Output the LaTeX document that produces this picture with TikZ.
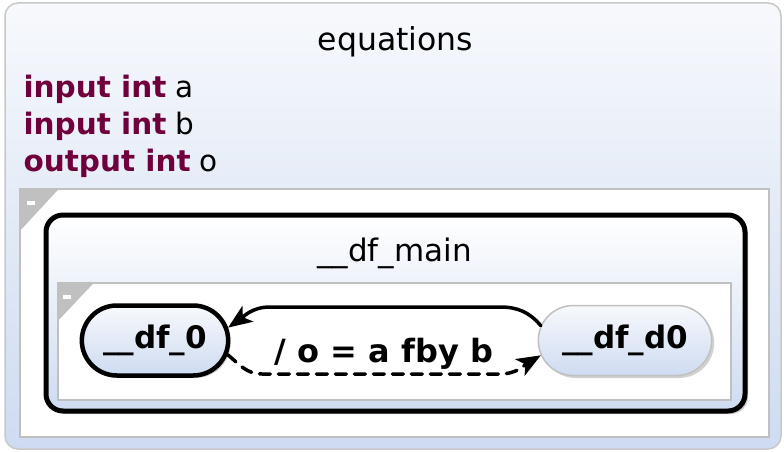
\documentclass[tikz,border=0pt]{standalone}
\usepackage{fontspec}
\setmainfont{DejaVu Sans}
\usetikzlibrary{shapes.misc,arrows.meta,shadows}
\definecolor{kw}{RGB}{112,0,60}
\definecolor{regbd}{RGB}{192,192,192}
\definecolor{outbd}{RGB}{200,200,200}
\definecolor{lblue}{RGB}{206,219,241}
\definecolor{wtop}{RGB}{247,249,252}
\begin{document}
\begin{tikzpicture}[x=1pt,y=-1pt,
  statebox/.style={rounded rectangle, draw, minimum height=70pt,
    font=\fontsize{31}{36}\selectfont\bfseries,
    top color=wtop, bottom color=lblue,
    drop shadow={shadow xshift=2.5pt,shadow yshift=-2.5pt,fill=black,opacity=0.18}},
  regionbox/.style={draw=regbd, line width=1.5pt, fill=white},
  fold/.style={fill=regbd, draw=none},
  foldmark/.style={fill=white, draw=none},
  decl/.style={anchor=base west, font=\fontsize{29.5}{34}\selectfont},
  trans/.style={line width=3.5pt, line cap=round},
  arrowtip/.style={-{Stealth[length=24pt,width=19pt,inset=6pt]}}
]
\useasboundingbox (0,0) rectangle (784,452);
% outer state
\draw[outbd, line width=1.5pt, rounded corners=13pt, top color=wtop, bottom color=lblue]
  (5,3) rectangle (781,449);
\node[anchor=base, font=\fontsize{31.5}{36}\selectfont] (eqt) at (395.5,51) {equations};
\node[decl] (d1) at (20,97) {\textcolor{kw}{\bfseries input int} a};
\node[decl] (d2) at (20,134) {\textcolor{kw}{\bfseries input int} b};
\node[decl] (d3) at (20,171) {\textcolor{kw}{\bfseries output int} o};
% outer region
\draw[regionbox] (20,189) rectangle (769,437);
\fill[fold] (20.75,189.75) -- (58,189.75) -- (20.75,230) -- cycle;
\fill[foldmark] (27,201) rectangle (35,205);
% __df_main
\draw[line width=5pt, rounded corners=17pt, top color=white, bottom color=lblue,
  drop shadow={shadow xshift=3pt,shadow yshift=-3pt,fill=black,opacity=0.2}]
  (46,215) rectangle (745,411);
\node[anchor=base, font=\fontsize{31}{36}\selectfont] (mt) at (394.5,261) {\_\_df\_main};
% inner region
\draw[regionbox] (58,283) rectangle (731,400);
\fill[fold] (58.75,283.75) -- (93,283.75) -- (58.75,320) -- cycle;
\fill[foldmark] (63,295) rectangle (71,299);
% states
\node[statebox, line width=4.5pt, minimum width=153pt] (df0) at (155,340.5) {\_\_df\_0};
\node[statebox, draw=regbd, line width=1.5pt, minimum width=180pt] (d0) at (625,340.5) {\_\_df\_d0};
% transitions
\coordinate (ua) at (500,307);
\coordinate (ub) at (270,307);
\coordinate (la) at (262,374);
\coordinate (lb) at (500,374);
\draw[trans, arrowtip] (d0.170) to[out=130,in=0] (ua) -- (ub) to[out=180,in=35] (df0.10);
\draw[trans, arrowtip, dash pattern=on 11pt off 8pt] (df0.-11) to[out=-40,in=180] (la) -- (lb) to[out=0,in=-150] (d0.-170);
\node[anchor=base, font=\fontsize{32}{36}\selectfont\bfseries] (lab) at (384,362) {/ o = a fby b};
\end{tikzpicture}
\end{document}
